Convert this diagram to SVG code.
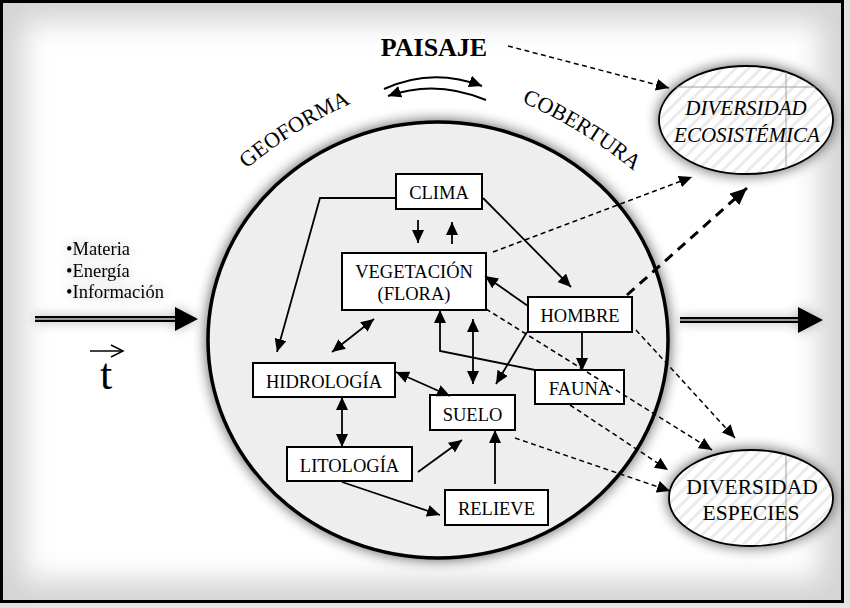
<svg xmlns="http://www.w3.org/2000/svg" width="850" height="608" viewBox="0 0 850 608">
<style>
.t{font-family:"Liberation Serif","Times New Roman",serif;fill:#000}
.n{font-size:18.5px;text-anchor:middle}
.box{fill:#fff;stroke:#000;stroke-width:2}
.c{fill:none;stroke:#000;stroke-width:1.8}
.d{fill:none;stroke:#000;stroke-width:1.5;stroke-dasharray:5 3.5}
.dk{fill:none;stroke:#000;stroke-width:3;stroke-dasharray:10 7}
.art{stroke:#a0a0a0;stroke-width:1}
</style>
<defs>
<filter id="sh" x="-20%" y="-20%" width="140%" height="140%">
<feGaussianBlur in="SourceAlpha" stdDeviation="7"/>
<feComponentTransfer><feFuncA type="linear" slope="0.65"/></feComponentTransfer>
<feMerge><feMergeNode/><feMergeNode in="SourceGraphic"/></feMerge>
</filter>
<filter id="glow" x="-30%" y="-60%" width="160%" height="220%">
<feGaussianBlur in="SourceAlpha" stdDeviation="6"/>
<feComponentTransfer><feFuncA type="linear" slope="0.3"/></feComponentTransfer>
<feMerge><feMergeNode/><feMergeNode in="SourceGraphic"/></feMerge>
</filter>
<filter id="bg" x="-10%" y="-10%" width="120%" height="120%">
<feGaussianBlur stdDeviation="14"/>
</filter>
<pattern id="hatch" patternUnits="userSpaceOnUse" width="9" height="9" patternTransform="rotate(45)">
<rect width="9" height="9" fill="#fff"/>
<rect width="3" height="9" fill="#ebebeb"/>
</pattern>
<clipPath id="cEco"><ellipse cx="746" cy="120" rx="87" ry="54"/></clipPath>
<clipPath id="cEsp"><ellipse cx="751" cy="498" rx="82" ry="48"/></clipPath>
<marker id="a" viewBox="0 0 13 12" refX="13" refY="6" markerWidth="13" markerHeight="12" markerUnits="userSpaceOnUse" orient="auto-start-reverse">
<path d="M0,0L13,6L0,12z" fill="#000"/>
</marker>
<marker id="aL" viewBox="0 0 17 15" refX="17" refY="7.5" markerWidth="17" markerHeight="15" markerUnits="userSpaceOnUse" orient="auto">
<path d="M0,0L17,7.5L0,15z" fill="#000"/>
</marker>
<path id="pGeo" d="M236,178 Q293,127 364,98"/>
<path id="pCob" d="M512,98 Q583,127 642,178"/>
</defs>

<!-- background & frame -->
<rect width="850" height="608" fill="#e4e4e4"/>
<rect x="1.5" y="1.5" width="841" height="600" fill="#d4d4d4"/>
<rect x="24" y="22" width="796" height="558" fill="#fff" filter="url(#bg)"/>
<rect x="1.5" y="1.5" width="841" height="600" fill="none" stroke="#000" stroke-width="3"/>

<!-- main system circle -->
<g id="sistema">
<ellipse cx="438" cy="340" rx="230" ry="218" fill="#eeeeee" stroke="#000" stroke-width="3.5" filter="url(#sh)"/>
</g>

<g id="paisaje">
<text class="t" x="434" y="56" font-size="26" font-weight="bold" text-anchor="middle">PAISAJE</text>
<path d="M384,89 Q432,67 482,86" fill="none" stroke="#000" stroke-width="2" marker-end="url(#a)"/>
<path d="M486,100 Q436,79 388,96" fill="none" stroke="#000" stroke-width="2" marker-end="url(#a)"/>
</g>
<g id="geoforma">
<text class="t" font-size="22" text-anchor="middle"><textPath href="#pGeo" startOffset="50%">GEOFORMA</textPath></text>
</g>
<g id="cobertura">
<text class="t" font-size="22" text-anchor="middle"><textPath href="#pCob" startOffset="50%">COBERTURA</textPath></text>
</g>

<g id="entradas" filter="url(#glow)">
<text class="t" font-size="18.5" x="66" y="255">•Materia</text>
<text class="t" font-size="18.5" x="66" y="277">•Energía</text>
<text class="t" font-size="18.5" x="66" y="298">•Información</text>
</g>
<g id="flecha-entrada" filter="url(#glow)">
<line x1="35" y1="319" x2="178" y2="319" stroke="#000" stroke-width="6"/>
<line x1="35" y1="319" x2="176" y2="319" stroke="#999" stroke-width="2"/>
<path d="M175,307L198,319L175,331z" fill="#000"/>
</g>
<g id="tiempo">
<line x1="90" y1="351" x2="122" y2="351" stroke="#000" stroke-width="1.5"/>
<path d="M111,345L123,351L111,357" fill="none" stroke="#000" stroke-width="1.5"/>
<text class="t" x="106" y="389" font-size="44" text-anchor="middle">t</text>
</g>
<g id="flecha-salida" filter="url(#glow)">
<line x1="680" y1="320" x2="800" y2="320" stroke="#000" stroke-width="6"/>
<line x1="680" y1="320" x2="798" y2="320" stroke="#999" stroke-width="2"/>
<path d="M798,307L823,320L798,333z" fill="#000"/>
</g>

<!-- nodes -->
<g id="clima"><rect class="box" x="396" y="174" width="86" height="35"/><text class="t n" x="439" y="199">CLIMA</text></g>
<g id="vegetacion"><rect class="box" x="342" y="253" width="144" height="57"/><text class="t n" x="414" y="278">VEGETACIÓN</text><text class="t n" x="414" y="300">(FLORA)</text></g>
<g id="hombre"><rect class="box" x="528" y="297" width="104" height="35"/><text class="t n" x="580" y="322">HOMBRE</text></g>
<g id="hidrologia"><rect class="box" x="253" y="363" width="142" height="34"/><text class="t n" x="324" y="388">HIDROLOGÍA</text></g>
<g id="suelo"><rect class="box" x="430" y="395" width="85" height="35"/><text class="t n" x="472.5" y="421">SUELO</text></g>
<g id="fauna"><rect class="box" x="535" y="370" width="89" height="34"/><text class="t n" x="580" y="395">FAUNA</text></g>
<g id="litologia"><rect class="box" x="287" y="447" width="125" height="34"/><text class="t n" x="349.5" y="472">LITOLOGÍA</text></g>
<g id="relieve"><rect class="box" x="445" y="490" width="103" height="35"/><text class="t n" x="496.5" y="515">RELIEVE</text></g>

<g id="diversidad-ecosistemica">
<ellipse cx="746" cy="120" rx="87" ry="54" fill="url(#hatch)" stroke="#000" stroke-width="1.8" filter="url(#sh)"/>
<g clip-path="url(#cEco)"><line class="art" x1="655" y1="87" x2="840" y2="87"/><line class="art" x1="786" y1="60" x2="786" y2="180"/></g>
<text class="t" x="746" y="115" font-size="21" font-style="italic" text-anchor="middle">DIVERSIDAD</text>
<text class="t" x="747" y="142" font-size="21" font-style="italic" text-anchor="middle">ECOSISTÉMICA</text>
</g>
<g id="diversidad-especies">
<ellipse cx="751" cy="498" rx="82" ry="48" fill="url(#hatch)" stroke="#000" stroke-width="1.8" filter="url(#sh)"/>
<g clip-path="url(#cEsp)"><line class="art" x1="786" y1="445" x2="786" y2="550"/></g>
<text class="t" x="752" y="494" font-size="21.5" text-anchor="middle">DIVERSIDAD</text>
<text class="t" x="751" y="520" font-size="21.5" text-anchor="middle">ESPECIES</text>
</g>

<!-- connectors -->
<g id="connectors">
<polyline class="c" points="396,198 320,198 277,352" marker-end="url(#a)"/>
<line class="c" x1="483" y1="198" x2="571" y2="287" marker-end="url(#a)"/>
<line class="c" x1="418" y1="220" x2="418" y2="243" marker-end="url(#a)"/>
<line class="c" x1="452" y1="244" x2="452" y2="222" marker-end="url(#a)"/>
<line class="c" x1="528" y1="306" x2="485" y2="276" marker-end="url(#a)"/>
<line class="c" x1="332" y1="352" x2="374" y2="319" marker-start="url(#a)" marker-end="url(#a)"/>
<polyline class="c" points="535,370 440,351 440,310" marker-end="url(#a)"/>
<line class="c" x1="473" y1="319" x2="473" y2="384" marker-start="url(#a)" marker-end="url(#a)"/>
<line class="c" x1="527" y1="332" x2="496" y2="384" marker-end="url(#a)"/>
<line class="c" x1="582" y1="332" x2="582" y2="371" marker-end="url(#a)"/>
<line class="c" x1="396" y1="372" x2="450" y2="396" marker-start="url(#a)" marker-end="url(#a)"/>
<line class="c" x1="342" y1="397" x2="342" y2="447" marker-start="url(#a)" marker-end="url(#a)"/>
<line class="c" x1="418" y1="472" x2="462" y2="440" marker-end="url(#a)"/>
<line class="c" x1="342" y1="482" x2="440" y2="515" marker-end="url(#a)"/>
<line class="c" x1="495" y1="484" x2="495" y2="430" marker-end="url(#a)"/>
<line class="d" x1="508" y1="46" x2="669" y2="88" marker-end="url(#a)"/>
<line class="d" x1="493" y1="252" x2="692" y2="177" marker-end="url(#a)"/>
<line class="dk" x1="627" y1="295" x2="747" y2="188" marker-end="url(#aL)"/>
<line class="d" x1="636" y1="330" x2="735" y2="438" marker-end="url(#a)"/>
<line class="d" x1="486" y1="309" x2="712" y2="450" marker-end="url(#a)"/>
<line class="d" x1="570" y1="405" x2="668" y2="470" marker-end="url(#a)"/>
<line class="d" x1="515" y1="438" x2="670" y2="491" marker-end="url(#a)"/>
</g>
</svg>
